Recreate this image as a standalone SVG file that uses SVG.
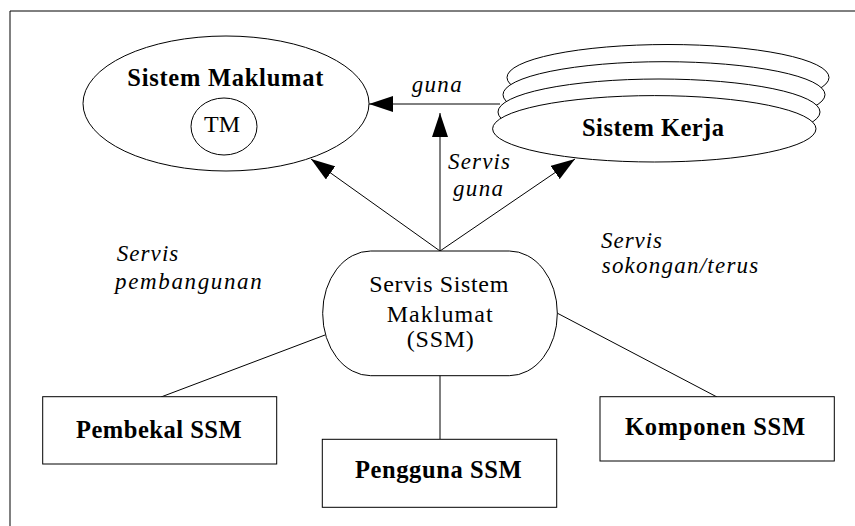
<svg xmlns="http://www.w3.org/2000/svg" width="855" height="526" viewBox="0 0 855 526">
<style>
.shape{fill:#fff;stroke:#000;stroke-width:1}
.conn{stroke:#000;stroke-width:1;fill:none}
.t{font-family:"Liberation Serif","Times New Roman",serif;fill:#000}
.b{font-weight:bold;font-size:24.5px}
.r{font-size:24px}
.i{font-style:italic;font-size:23px}
</style>
<defs>
<marker id="ah" viewBox="0 0 24 16" refX="24" refY="8" markerWidth="24" markerHeight="16" markerUnits="userSpaceOnUse" orient="auto">
<path d="M0,0 L24,8 L0,16 z" fill="#000"/>
</marker>
</defs>
<rect width="855" height="526" fill="#fff"/>
<line x1="10" y1="11" x2="10" y2="526" stroke="#808080" stroke-width="2"/>
<line x1="10" y1="11" x2="855" y2="11" stroke="#000" stroke-width="1"/>

<g id="connectors">
<line class="conn" x1="500" y1="104" x2="369" y2="104" marker-end="url(#ah)"/>
<line class="conn" x1="440" y1="251" x2="440" y2="113" marker-end="url(#ah)"/>
<line class="conn" x1="440" y1="251" x2="311" y2="159" marker-end="url(#ah)"/>
<line class="conn" x1="440" y1="251" x2="575" y2="159" marker-end="url(#ah)"/>
<line class="conn" x1="325" y1="335" x2="161" y2="397"/>
<line class="conn" x1="440" y1="375" x2="440" y2="439"/>
<line class="conn" x1="557" y1="313" x2="717" y2="397"/>
</g>

<g id="sistem-maklumat">
<ellipse class="shape" cx="226" cy="103.5" rx="143" ry="67.5"/>
<text class="t b" x="225.3" y="86" text-anchor="middle" textLength="196" lengthAdjust="spacing">Sistem Maklumat</text>
<ellipse class="shape" cx="224" cy="126.5" rx="33" ry="28.5"/>
<text class="t" x="222" y="132" text-anchor="middle" font-size="24">TM</text>
</g>

<g id="sistem-kerja">
<ellipse class="shape" cx="668" cy="77.5" rx="161" ry="33"/>
<ellipse class="shape" cx="664" cy="94.7" rx="161" ry="33"/>
<ellipse class="shape" cx="659" cy="112" rx="161" ry="33"/>
<ellipse class="shape" cx="654.3" cy="128.8" rx="161.7" ry="33.2"/>
<text class="t b" x="653" y="135.7" text-anchor="middle" textLength="142" lengthAdjust="spacing">Sistem Kerja</text>
</g>

<g id="ssm">
<rect class="shape" x="322.7" y="251" width="234.6" height="124.7" rx="48" ry="62"/>
<text class="t r" x="438.8" y="292" text-anchor="middle" textLength="139" lengthAdjust="spacing">Servis Sistem</text>
<text class="t r" x="439.7" y="321.7" text-anchor="middle" textLength="106" lengthAdjust="spacing">Maklumat</text>
<text class="t r" x="440.3" y="347.3" text-anchor="middle" textLength="67" lengthAdjust="spacing">(SSM)</text>
</g>

<g id="pembekal">
<rect class="shape" x="42.7" y="396.7" width="234" height="67.3"/>
<text class="t b" x="158.8" y="438" text-anchor="middle" textLength="165.7" lengthAdjust="spacing">Pembekal SSM</text>
</g>

<g id="pengguna">
<rect class="shape" x="322.3" y="439.3" width="234.4" height="68"/>
<text class="t b" x="438.3" y="478" text-anchor="middle" textLength="166.7" lengthAdjust="spacing">Pengguna SSM</text>
</g>

<g id="komponen">
<rect class="shape" x="600" y="396.7" width="234.3" height="64.3"/>
<text class="t b" x="715" y="435" text-anchor="middle" textLength="180" lengthAdjust="spacing">Komponen SSM</text>
</g>

<g id="labels">
<text class="t i" x="411.7" y="92" textLength="50" lengthAdjust="spacing">guna</text>
<text class="t i" x="448" y="169" textLength="62" lengthAdjust="spacing">Servis</text>
<text class="t i" x="453" y="196" textLength="50" lengthAdjust="spacing">guna</text>
<text class="t i" x="116.7" y="261" textLength="61.6" lengthAdjust="spacing">Servis</text>
<text class="t i" x="115" y="288.5" textLength="146.7" lengthAdjust="spacing">pembangunan</text>
<text class="t i" x="601" y="247.5" textLength="61" lengthAdjust="spacing">Servis</text>
<text class="t i" x="601.7" y="273.3" textLength="156.6" lengthAdjust="spacing">sokongan/terus</text>
</g>
</svg>
